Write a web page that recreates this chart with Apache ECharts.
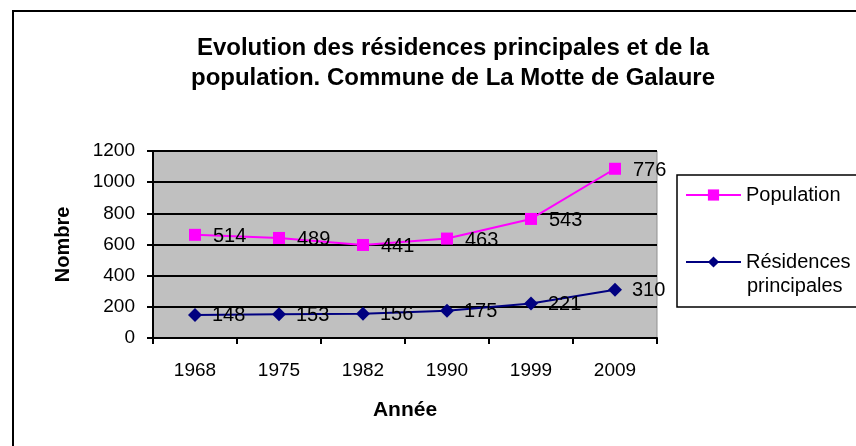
<!DOCTYPE html>
<html>
<head>
<meta charset="utf-8">
<script src="https://cdn.jsdelivr.net/npm/echarts@6/dist/echarts.min.js"></script>
<style>
  html, body { margin: 0; padding: 0; background: #fff; }
  #main { width: 856px; height: 446px; }
</style>
</head>
<body>
<div id="main"></div>
<script>
  var annees = ['1968', '1975', '1982', '1990', '1999', '2009'];
  var residences = [148, 153, 156, 175, 221, 310];
  var population = [514, 489, 441, 463, 543, 776];
  var yTicks = [0, 200, 400, 600, 800, 1000, 1200];

  var font = 'Liberation Sans, Arial, sans-serif';
  var chart = echarts.init(document.getElementById('main'));

  chart.setOption({
    backgroundColor: '#fff',
    animation: false,
    title: {
      text: 'Evolution des résidences principales et de la\npopulation. Commune de La Motte de Galaure',
      left: 448,
      textAlign: 'center',
      top: 28,
      textStyle: { fontFamily: font, fontSize: 24, fontWeight: 'bold', color: '#000', lineHeight: 30 }
    },
    graphic: [{
      // cadre du graphique
      type: 'rect',
      shape: { x: 13, y: 11, width: 900, height: 500 },
      style: { fill: null, stroke: '#000', lineWidth: 2 },
      silent: true,
      z: -1
    }, {
      // 2e ligne de la légende
      type: 'text',
      left: 747,
      top: 276,
      z: 100,
      silent: true,
      style: { text: 'principales', font: '20px ' + font, fill: '#000' }
    }],
    legend: {
      orient: 'vertical',
      left: 677,
      top: 175,
      padding: [7, 60, 32, 8],
      itemGap: 41,
      itemWidth: 55,
      itemHeight: 14,
      borderColor: '#000',
      borderWidth: 1.5,
      backgroundColor: '#fff',
      data: ['Population', 'Résidences principales'],
      formatter: function (name) {
        return name === 'Résidences principales' ? 'Résidences' : name;
      },
      textStyle: { fontFamily: font, fontSize: 20, color: '#000', lineHeight: 26 }
    },
    grid: {
      left: 153,
      right: 199,
      top: 151,
      bottom: 108,
      show: true,
      backgroundColor: '#c0c0c0',
      borderColor: '#909090',
      borderWidth: 1
    },
    xAxis: {
      type: 'category',
      data: annees,
      boundaryGap: true,
      name: 'Année',
      nameLocation: 'middle',
      nameGap: 62,
      nameTextStyle: { fontFamily: font, fontSize: 21, fontWeight: 'bold', color: '#000' },
      axisLine: { lineStyle: { color: '#000', width: 2 } },
      axisTick: { show: true, length: 6, lineStyle: { color: '#000', width: 2 } },
      axisLabel: { fontFamily: font, fontSize: 19, color: '#000', margin: 23 }
    },
    yAxis: {
      type: 'value',
      min: yTicks[0],
      max: yTicks[yTicks.length - 1],
      interval: 200,
      name: 'Nombre',
      nameLocation: 'middle',
      nameGap: 80,
      nameTextStyle: { fontFamily: font, fontSize: 20, fontWeight: 'bold', color: '#000' },
      axisLine: { show: true, lineStyle: { color: '#000', width: 2 } },
      axisTick: { show: true, length: 6, lineStyle: { color: '#000', width: 2 } },
      axisLabel: {
        fontFamily: font, fontSize: 19, color: '#000', margin: 18,
        formatter: function (v) { return String(v); }
      },
      splitLine: { show: true, lineStyle: { color: '#000', width: 2 } }
    },
    series: [{
      name: 'Résidences principales',
      type: 'line',
      stack: 'total',
      data: residences,
      symbol: 'diamond',
      symbolSize: 14,
      color: '#000080',
      lineStyle: { color: '#000080', width: 2 },
      itemStyle: { color: '#000080' },
      label: {
        show: true,
        position: 'right',
        distance: 10,
        offset: [0, 1],
        fontFamily: font,
        fontSize: 20,
        color: '#000'
      }
    }, {
      name: 'Population',
      type: 'line',
      stack: 'total',
      data: population,
      symbol: 'rect',
      symbolSize: 12,
      color: '#ff00ff',
      lineStyle: { color: '#ff00ff', width: 2 },
      itemStyle: { color: '#ff00ff' },
      label: {
        show: true,
        position: 'right',
        distance: 12,
        offset: [0, 2],
        fontFamily: font,
        fontSize: 20,
        color: '#000'
      }
    }]
  });
</script>
</body>
</html>
